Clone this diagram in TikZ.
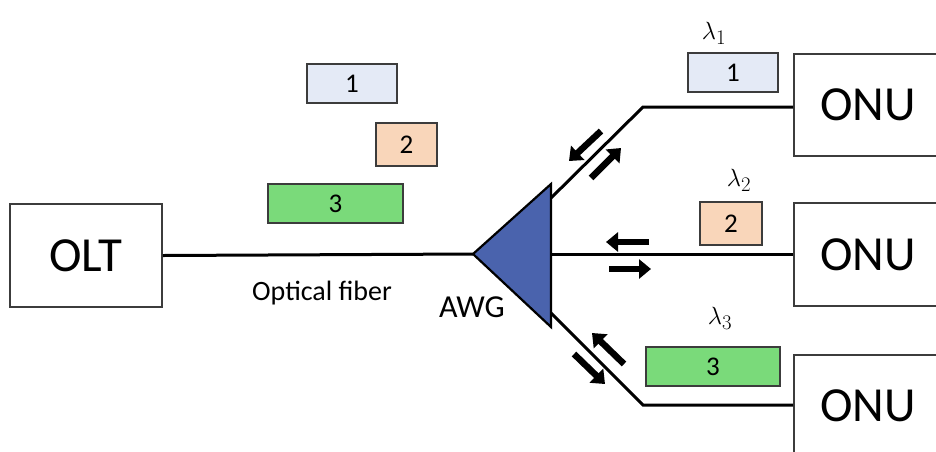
\documentclass[tikz,border=0pt]{standalone}
\usepackage{fontspec}
\setmainfont{Carlito}
\usetikzlibrary{arrows.meta}
\definecolor{awgblue}{RGB}{74,99,173}
\definecolor{cblue}{RGB}{228,234,246}
\definecolor{cpeach}{RGB}{249,214,186}
\definecolor{cgreen}{RGB}{122,218,122}
\definecolor{bordergray}{RGB}{60,60,60}
\tikzset{
  unitbox/.style={draw=bordergray, line width=1.6pt, fill=white, inner sep=0pt, font=\fontsize{49}{49}\selectfont},
  wbox/.style={draw=bordergray, line width=1.3pt, inner sep=0pt, font=\fontsize{27}{27}\selectfont},
  fiber/.style={line width=3pt, black},
  dirarrow/.style={line width=6.5pt, -{Triangle[length=12pt,width=19pt]}},
  lam/.style={inner sep=0pt, font=\fontsize{30}{30}\selectfont},
  lbl/.style={inner sep=0pt, anchor=base}
}
\begin{document}
\begin{tikzpicture}[x=1pt,y=-1pt]
\useasboundingbox (0,0) rectangle (936,451);
\clip (0,0) rectangle (936,451);
% OLT
\node[unitbox, minimum width=152pt, minimum height=103pt] (olt) at (86,255.5) {OLT};
% ONUs
\node[unitbox, minimum width=150pt, minimum height=102pt] (onu1) at (869,105) {\hspace*{-2pt}ONU};
\node[unitbox, minimum width=150pt, minimum height=103pt] (onu2) at (869,254.5) {\hspace*{-2pt}ONU};
\node[unitbox, minimum width=150pt, minimum height=102pt] (onu3) at (869,406) {\hspace*{-2pt}ONU};
% AWG
\coordinate (awgtip) at (473,254);
\coordinate (awgtop) at (551,184);
\coordinate (awgbot) at (551,327);
\coordinate (b1) at (551,198);
\coordinate (b2) at (551,254.5);
\coordinate (b3) at (551,313);
\coordinate (k1) at (643,107);
\coordinate (k3) at (643,405);
\draw[fiber] (olt.east) -- (awgtip);
\draw[fiber] (b1) -- (k1) -- (onu1.west |- k1);
\draw[fiber] (b2) -- (onu2.west);
\draw[fiber] (b3) -- (k3) -- (onu3.west |- k3);
\filldraw[fill=awgblue, draw=black, line width=2.2pt, line join=miter] (awgtip) -- (awgtop) -- (awgbot) -- cycle;
\node[lbl, font=\fontsize{32}{32}\selectfont] (awg) at (472,317) {AWG};
\node[lbl, font=\fontsize{28}{28}\selectfont] (of) at (322,300) {Optical fiber};
% wavelength boxes (left)
\node[wbox, fill=cblue, minimum width=90pt, minimum height=39pt] (l1) at (352,83.5) {1};
\node[wbox, fill=cpeach, minimum width=61pt, minimum height=43pt] (l2) at (406.5,144.5) {2};
\node[wbox, fill=cgreen, minimum width=135pt, minimum height=39pt] (l3) at (335.5,203.5) {3};
% wavelength boxes (right)
\node[wbox, fill=cblue, minimum width=90pt, minimum height=39pt] (r1) at (733,72.5) {1};
\node[wbox, fill=cpeach, minimum width=62pt, minimum height=43pt] (r2) at (731,223.5) {2};
\node[wbox, fill=cgreen, minimum width=134pt, minimum height=39pt] (r3) at (713,366.5) {3};
% lambdas
\node[lam] (lam1) at (714,33) {$\lambda_1$};
\node[lam] (lam2) at (739,180) {$\lambda_2$};
\node[lam] (lam3) at (720,318) {$\lambda_3$};
% direction arrows
\coordinate (a1s) at (601,131); \coordinate (a1e) at (569,161);
\coordinate (a2s) at (591,178); \coordinate (a2e) at (621,148);
\coordinate (a3s) at (649,242); \coordinate (a3e) at (606,242);
\coordinate (a4s) at (609,269); \coordinate (a4e) at (651,269);
\coordinate (a5s) at (624,364); \coordinate (a5e) at (592,333);
\coordinate (a6s) at (574,354); \coordinate (a6e) at (605,384);
\draw[dirarrow] (a1s) -- (a1e);
\draw[dirarrow] (a2s) -- (a2e);
\draw[dirarrow] (a3s) -- (a3e);
\draw[dirarrow] (a4s) -- (a4e);
\draw[dirarrow] (a5s) -- (a5e);
\draw[dirarrow] (a6s) -- (a6e);
\end{tikzpicture}
\end{document}
